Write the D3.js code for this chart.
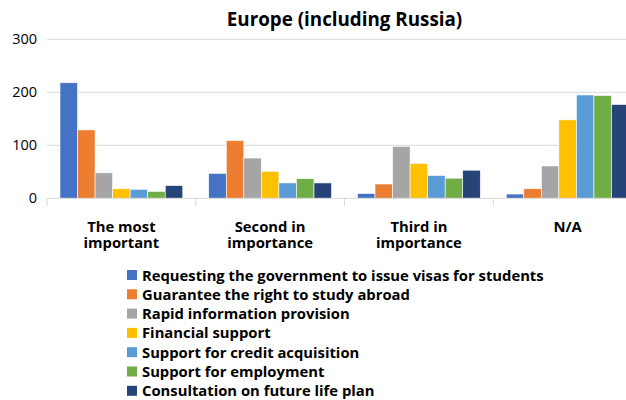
<!DOCTYPE html>
<html>
<head>
<meta charset="utf-8">
<script src="https://cdn.jsdelivr.net/npm/d3@7"></script>
<style>
  body{margin:0;background:#fff;}
  svg{display:block;font-family:"Open Sans",Lato,sans-serif;}
</style>
</head>
<body>
<svg></svg>
<script>
var categories = [["The most","important"],["Second in","importance"],["Third in","importance"],["N/A"]];
var seriesNames = [
  "Requesting the government to issue visas for students",
  "Guarantee the right to study abroad",
  "Rapid information provision",
  "Financial support",
  "Support for credit acquisition",
  "Support for employment",
  "Consultation on future life plan"
];
var colors = ["#4472C4","#ED7D31","#A5A5A5","#FFC000","#5B9BD5","#70AD47","#264478"];
// values per series, one entry per category
var visas      = [218,  47,  9,   8];
var rightStudy = [129, 109, 27,  18];
var rapidInfo  = [ 48,  76, 98,  61];
var financial  = [ 18,  51, 66, 148];
var credit     = [ 17,  29, 43, 195];
var employment = [ 13,  37, 38, 194];
var lifePlan   = [ 24,  29, 53, 177];
var seriesValues = [visas,rightStudy,rapidInfo,financial,credit,employment,lifePlan];
var yTicks = [0,100,200,300];

var width = 626, height = 400;
var margin = {top:40, left:47, right:-16, bot:202};
var svg = d3.select("svg").attr("width",width).attr("height",height);

var x0 = d3.scaleBand()
  .domain(d3.range(categories.length))
  .range([margin.left, width-margin.right])
  .paddingInner(0).paddingOuter(0);
var x1 = d3.scaleBand()
  .domain(d3.range(seriesNames.length))
  .range([0, x0.bandwidth()])
  .paddingOuter(0.74).paddingInner(0);
var y = d3.scaleLinear().domain([0,300]).range([198.3, 39.3]);

// gridlines
svg.append("g").selectAll("line")
  .data(yTicks.slice(1))
  .enter().append("line")
  .attr("x1",margin.left).attr("x2",width-margin.right)
  .attr("y1",function(d){return y(d);}).attr("y2",function(d){return y(d);})
  .attr("stroke","#d9d9d9").attr("stroke-width",1);

// y axis labels
svg.append("g").selectAll("text")
  .data(yTicks)
  .enter().append("text")
  .attr("x",37).attr("y",function(d){return y(d)+5;})
  .attr("text-anchor","end")
  .attr("font-size",14.5).attr("fill","#000")
  .text(function(d){return d;});

// bars
var groups = svg.append("g").selectAll("g")
  .data(categories)
  .enter().append("g")
  .attr("transform",function(d,i){return "translate("+x0(i)+",0)";});
groups.selectAll("rect")
  .data(function(d,i){return seriesValues.map(function(s,j){return {s:j,v:s[i]};});})
  .enter().append("rect")
  .attr("x",function(d){return x1(d.s);})
  .attr("width",x1.bandwidth())
  .attr("y",function(d){return y(d.v);})
  .attr("height",function(d){return y(0)-y(d.v);})
  .attr("fill",function(d){return colors[d.s];})
  .attr("stroke","#fff").attr("stroke-width",0.6);

// x axis
var xAxis = svg.append("g");
xAxis.append("line")
  .attr("x1",margin.left).attr("x2",width-margin.right)
  .attr("y1",y(0)).attr("y2",y(0))
  .attr("stroke","#d9d9d9");
xAxis.selectAll("line.tick")
  .data(d3.range(categories.length+1))
  .enter().append("line").attr("class","tick")
  .attr("x1",function(d){return d<categories.length? x0(d) : x0(d-1)+x0.bandwidth();})
  .attr("x2",function(d){return d<categories.length? x0(d) : x0(d-1)+x0.bandwidth();})
  .attr("y1",y(0)).attr("y2",y(0)+8)
  .attr("stroke","#d9d9d9");
xAxis.selectAll("text")
  .data(categories)
  .enter().append("text")
  .attr("text-anchor","middle")
  .attr("font-size",14.8).attr("font-weight","bold")
  .attr("transform",function(d,i){return "translate("+(x0(i)+x0.bandwidth()/2)+",232)";})
  .each(function(d){
    var t = d3.select(this);
    d.forEach(function(line,k){
      t.append("tspan").attr("x",0).attr("y",k*15.5).text(line);
    });
  });

// title
svg.append("text")
  .attr("x",(x0.range()[0]+x0.range()[1])/2).attr("y",26)
  .attr("text-anchor","middle")
  .attr("font-size",18.8).attr("font-weight","bold")
  .text("Europe (including Russia)");

// legend
var legend = svg.append("g").selectAll("g")
  .data(seriesNames)
  .enter().append("g")
  .attr("transform",function(d,i){return "translate(127,"+(275+i*19.3)+")";});
legend.append("rect")
  .attr("x",0).attr("y",-5).attr("width",10).attr("height",10)
  .attr("fill",function(d,i){return colors[i];});
legend.append("text")
  .attr("x",15).attr("y",5.5)
  .attr("font-size",14.8).attr("font-weight","bold")
  .text(function(d){return d;});
</script>
</body>
</html>
